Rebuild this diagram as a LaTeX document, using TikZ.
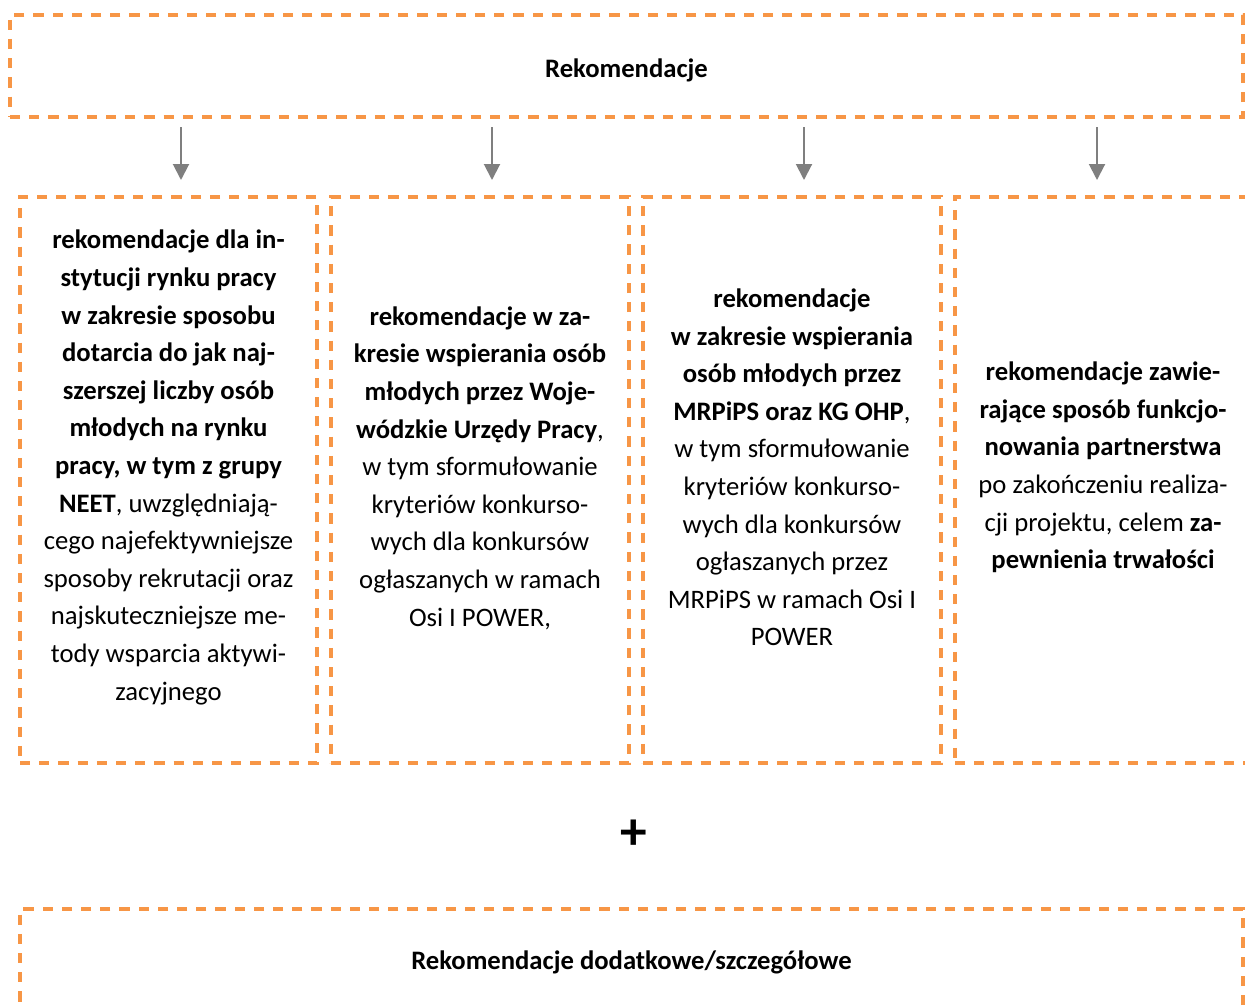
\documentclass[tikz,border=0pt]{standalone}
\usepackage{fontspec}
\setmainfont{Carlito}
\usetikzlibrary{arrows.meta}
\definecolor{boxorange}{HTML}{F79646}
\definecolor{arrgray}{HTML}{7F7F7F}
\begin{document}
\begin{tikzpicture}[x=0.75pt,y=-0.75pt,
  dbox/.style={draw=boxorange, line width=2.3pt, dash pattern=on 7.7pt off 6.7pt, rectangle, inner sep=0pt, outer sep=0pt},
  body/.style={align=center, font=\fontsize{20}{28.2}\selectfont, inner sep=0pt},
  plusstyle/.style={font=\fontsize{40}{44}\selectfont\bfseries, inner sep=0pt},
  arr/.style={draw=arrgray, line width=1.5pt, -{Triangle[width=12pt,length=12pt]}, shorten <=7.5pt, shorten >=12.75pt}]
\clip (0,0) rectangle (1245,1006);
\fill[white] (0,0) rectangle (1245,1006);

\node[dbox, minimum width={1233*0.75pt}, minimum height={102*0.75pt}] (top) at (626.5,66) {};
\node[body] (toptext) at (626.5,70) {\textbf{Rekomendacje}};

\node[dbox, minimum width={297*0.75pt}, minimum height={566*0.75pt}] (b1) at (168.5,480) {};
\node[dbox, minimum width={298*0.75pt}, minimum height={566*0.75pt}] (b2) at (480,480) {};
\node[dbox, minimum width={298*0.75pt}, minimum height={566*0.75pt}] (b3) at (792,480) {};
\node[dbox, minimum width={296*0.75pt}, minimum height={566*0.75pt}] (b4) at (1103,480) {};

\node[body] (t1) at (168.5,467.5) {\textbf{rekomendacje dla in-}\\ \textbf{stytucji rynku pracy}\\ \textbf{w zakresie sposobu}\\ \textbf{dotarcia do jak naj-}\\ \textbf{szerszej liczby osób}\\ \textbf{młodych na rynku}\\ \textbf{pracy, w tym z grupy}\\ \textbf{NEET}, uwzględniają-\\ cego najefektywniejsze\\ sposoby rekrutacji oraz\\ najskuteczniejsze me-\\ tody wsparcia aktywi-\\ zacyjnego};

\node[body] (t2) at (480,468) {\textbf{rekomendacje w za-}\\ \textbf{kresie wspierania osób}\\ \textbf{młodych przez Woje-}\\ \textbf{wódzkie Urzędy Pracy}, \\ w tym sformułowanie\\ kryteriów konkurso-\\ wych dla konkursów\\ ogłaszanych w ramach\\ Osi I POWER,};

\node[body] (t3) at (792,467.5) {\textbf{rekomendacje}\\ \textbf{w zakresie wspierania}\\ \textbf{osób młodych przez}\\ \textbf{MRPiPS oraz KG OHP},\\ w tym sformułowanie\\ kryteriów konkurso-\\ wych dla konkursów\\ ogłaszanych przez\\ MRPiPS w ramach Osi I\\ POWER};

\node[body] (t4) at (1103,467.5) {\textbf{rekomendacje zawie-}\\ \textbf{rające sposób funkcjo-}\\ \textbf{nowania partnerstwa}\\ po zakończeniu realiza-\\ cji projektu, celem \textbf{za-}\\ \textbf{pewnienia trwałości}};

\coordinate (a1) at (181,0);
\coordinate (a2) at (492,0);
\coordinate (a3) at (804,0);
\coordinate (a4) at (1097,0);
\draw[arr] (top.south -| a1) -- (b1.north -| a1);
\draw[arr] (top.south -| a2) -- (b2.north -| a2);
\draw[arr] (top.south -| a3) -- (b3.north -| a3);
\draw[arr] (top.south -| a4) -- (b4.north -| a4);

\node[plusstyle] (plus) at (634,835) {+};

\node[dbox, minimum width={1223*0.75pt}, minimum height={102*0.75pt}] (bottom) at (631.5,960) {};
\node[body] (bottomtext) at (631.5,962) {\textbf{Rekomendacje dodatkowe/szczegółowe}};
\end{tikzpicture}
\end{document}
